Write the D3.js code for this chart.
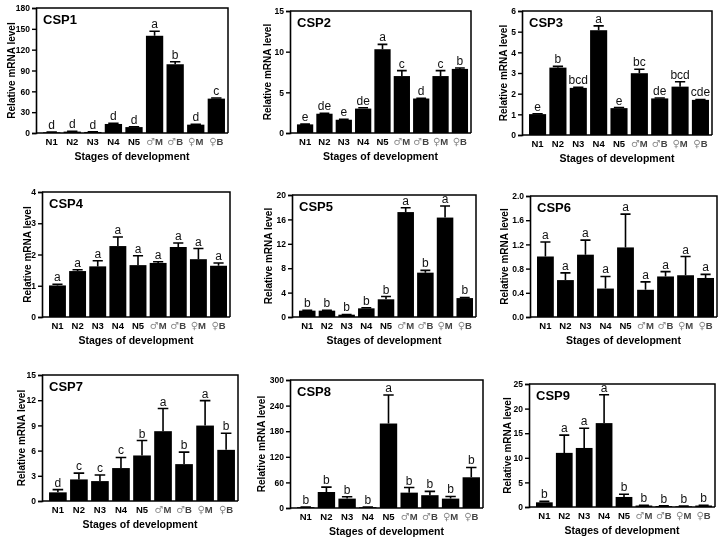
<!DOCTYPE html>
<html>
<head>
<meta charset="utf-8">
<script src="https://cdn.jsdelivr.net/npm/d3@7/dist/d3.min.js"></script>
<style>
  body { margin: 0; background: #fff; }
  svg { will-change: transform; }
  svg text { font-family: "Liberation Sans", Arial, sans-serif; }
</style>
</head>
<body>
<div id="chart"></div>
<script>
// stages on the x axis (same for all nine panels)
const categories = ["N1", "N2", "N3", "N4", "N5", "♂M", "♂B", "♀M", "♀B"];

// CSP1
const csp1Values = [1, 2, 1.5, 13, 8.5, 140, 99, 12, 49.5];
const csp1Errors = [0.3, 0.4, 0.3, 0.8, 0.6, 6.5, 3.5, 0.6, 0.8];
const csp1Letters = ["d", "d", "d", "d", "d", "a", "b", "d", "c"];
const csp1Ticks = [0, 30, 60, 90, 120, 150, 180];

// CSP2
const csp2Values = [1.06, 2.37, 1.63, 3.0, 10.3, 7.0, 4.24, 7.0, 7.88];
const csp2Errors = [0.03, 0.05, 0.04, 0.1, 0.6, 0.67, 0.04, 0.67, 0.12];
const csp2Letters = ["e", "de", "e", "de", "a", "c", "d", "c", "b"];
const csp2Ticks = [0, 5, 10, 15];

// CSP3
const csp3Values = [1.01, 3.26, 2.28, 5.07, 1.3, 2.99, 1.77, 2.34, 1.7];
const csp3Errors = [0.02, 0.06, 0.03, 0.21, 0.03, 0.19, 0.02, 0.24, 0.02];
const csp3Letters = ["e", "b", "bcd", "a", "e", "bc", "de", "bcd", "cde"];
const csp3Ticks = [0, 1, 2, 3, 4, 5, 6];

// CSP4
const csp4Values = [1.01, 1.47, 1.62, 2.27, 1.66, 1.73, 2.24, 1.85, 1.64];
const csp4Errors = [0.04, 0.04, 0.18, 0.29, 0.3, 0.04, 0.13, 0.34, 0.09];
const csp4Letters = ["a", "a", "a", "a", "a", "a", "a", "a", "a"];
const csp4Ticks = [0, 1, 2, 3, 4];

// CSP5
const csp5Values = [1.04, 1.04, 0.38, 1.42, 2.9, 17.2, 7.27, 16.3, 3.1];
const csp5Errors = [0.04, 0.04, 0.04, 0.1, 0.45, 0.7, 0.38, 1.9, 0.1];
const csp5Letters = ["b", "b", "b", "b", "b", "a", "b", "a", "b"];
const csp5Ticks = [0, 4, 8, 12, 16, 20];

// CSP6
const csp6Values = [1.0, 0.61, 1.03, 0.47, 1.15, 0.45, 0.67, 0.69, 0.645];
const csp6Errors = [0.24, 0.12, 0.24, 0.2, 0.55, 0.13, 0.08, 0.31, 0.06];
const csp6Letters = ["a", "a", "a", "a", "a", "a", "a", "a", "a"];
const csp6Ticks = [0, 0.4, 0.8, 1.2, 1.6, 2.0];

// CSP7
const csp7Values = [1.03, 2.57, 2.37, 3.92, 5.42, 8.31, 4.39, 8.98, 6.09];
const csp7Errors = [0.32, 0.75, 0.72, 1.26, 1.78, 2.7, 1.43, 2.97, 1.98];
const csp7Letters = ["d", "c", "c", "c", "b", "a", "b", "a", "b"];
const csp7Ticks = [0, 3, 6, 9, 12, 15];

// CSP8
const csp8Values = [2, 37.5, 22, 2, 198, 36, 30, 22, 72];
const csp8Errors = [0.5, 11.5, 4.5, 0.5, 67, 12, 9, 5, 23];
const csp8Letters = ["b", "b", "b", "b", "a", "b", "b", "b", "b"];
const csp8Ticks = [0, 60, 120, 180, 240, 300];

// CSP9
const csp9Values = [0.95, 11.0, 12.0, 17.05, 2.04, 0.3, 0.2, 0.15, 0.3];
const csp9Errors = [0.2, 3.6, 4.0, 5.75, 0.56, 0.05, 0.05, 0.03, 0.05];
const csp9Letters = ["b", "a", "a", "a", "b", "b", "b", "b", "b"];
const csp9Ticks = [0, 5, 10, 15, 20, 25];

// panel frames (left, right, top, bottom of the plot box) and y-label x
const panels = [
  { name: "CSP1", values: csp1Values, errors: csp1Errors, letters: csp1Letters, ticks: csp1Ticks, fmt: d3.format("d"), x0: 36, x1: 228, y0: 8, y1: 133, lx: 11 },
  { name: "CSP2", values: csp2Values, errors: csp2Errors, letters: csp2Letters, ticks: csp2Ticks, fmt: d3.format("d"), x0: 290, x1: 471, y0: 11, y1: 133, lx: 267 },
  { name: "CSP3", values: csp3Values, errors: csp3Errors, letters: csp3Letters, ticks: csp3Ticks, fmt: d3.format("d"), x0: 522, x1: 712, y0: 11, y1: 135, lx: 503 },
  { name: "CSP4", values: csp4Values, errors: csp4Errors, letters: csp4Letters, ticks: csp4Ticks, fmt: d3.format("d"), x0: 42, x1: 230, y0: 192, y1: 317, lx: 27 },
  { name: "CSP5", values: csp5Values, errors: csp5Errors, letters: csp5Letters, ticks: csp5Ticks, fmt: d3.format("d"), x0: 292, x1: 476, y0: 195, y1: 317, lx: 268 },
  { name: "CSP6", values: csp6Values, errors: csp6Errors, letters: csp6Letters, ticks: csp6Ticks, fmt: d3.format(".1f"), x0: 530, x1: 717, y0: 196, y1: 317, lx: 504 },
  { name: "CSP7", values: csp7Values, errors: csp7Errors, letters: csp7Letters, ticks: csp7Ticks, fmt: d3.format("d"), x0: 42, x1: 238, y0: 375, y1: 501, lx: 21 },
  { name: "CSP8", values: csp8Values, errors: csp8Errors, letters: csp8Letters, ticks: csp8Ticks, fmt: d3.format("d"), x0: 290, x1: 483, y0: 380, y1: 508, lx: 261 },
  { name: "CSP9", values: csp9Values, errors: csp9Errors, letters: csp9Letters, ticks: csp9Ticks, fmt: d3.format("d"), x0: 529, x1: 715, y0: 384, y1: 507, lx: 507 }
];

const svg = d3.select("#chart").append("svg")
  .attr("width", 720).attr("height", 542);
svg.append("rect").attr("width", 720).attr("height", 542).attr("fill", "#fff");

panels.forEach(p => {
  const g = svg.append("g");

  const y = d3.scaleLinear()
    .domain([0, d3.max(p.ticks)])
    .range([p.y1, p.y0]);

  const x = d3.scaleBand()
    .domain(categories)
    .range([p.x0 + 6, p.x1 - 2])
    .paddingInner(0.16)
    .paddingOuter(0.05);

  const data = categories.map((c, i) => ({ name: c, v: p.values[i], e: p.errors[i], l: p.letters[i] }));

  // bars
  g.selectAll(".bar").data(data).enter().append("rect")
    .attr("class", "bar")
    .attr("x", d => x(d.name))
    .attr("y", d => y(d.v))
    .attr("width", x.bandwidth())
    .attr("height", d => p.y1 - y(d.v))
    .attr("fill", "#000");

  // error bars (upper only)
  const capW = x.bandwidth() * 0.6;
  g.selectAll(".err").data(data).enter().append("path")
    .attr("class", "err")
    .attr("d", d => {
      const cx = x(d.name) + x.bandwidth() / 2;
      return `M${cx},${y(d.v)}V${y(d.v + d.e)}M${cx - capW / 2},${y(d.v + d.e)}H${cx + capW / 2}`;
    })
    .attr("stroke", "#000").attr("stroke-width", 1.6).attr("fill", "none");

  // significance letters
  g.selectAll(".sig").data(data).enter().append("text")
    .attr("class", "sig")
    .attr("x", d => x(d.name) + x.bandwidth() / 2)
    .attr("y", d => y(d.v + d.e) - 3)
    .attr("text-anchor", "middle")
    .attr("font-size", 12)
    .attr("fill", "#111")
    .text(d => d.l);

  // frame (top and right)
  g.append("path")
    .attr("d", `M${p.x0},${p.y0}H${p.x1}V${p.y1}`)
    .attr("stroke", "#000").attr("stroke-width", 1.5).attr("fill", "none");

  // y axis
  const yAxis = g.append("g")
    .attr("transform", `translate(${p.x0},0)`)
    .call(d3.axisLeft(y).tickValues(p.ticks).tickFormat(p.fmt).tickSize(4).tickPadding(2));
  yAxis.select(".domain").attr("stroke-width", 1.6);
  yAxis.selectAll(".tick line").attr("stroke-width", 1.4);
  yAxis.selectAll("text")
    .attr("font-family", "Liberation Sans, Arial, sans-serif")
    .attr("font-size", 8.5).attr("font-weight", "bold").attr("fill", "#000");

  // x axis line and labels
  const xAxis = g.append("g")
    .attr("transform", `translate(0,${p.y1})`)
    .call(d3.axisBottom(x).tickSize(0).tickPadding(5));
  xAxis.select(".domain")
    .attr("d", `M${p.x0},0H${p.x1}`)
    .attr("stroke-width", 1.6);
  xAxis.selectAll("text").each(function (d) {
    const t = d3.select(this).text("")
      .attr("font-family", "Liberation Sans, Arial, sans-serif")
      .attr("font-size", 9.5).attr("font-weight", "bold");
    if (d.startsWith("♂") || d.startsWith("♀")) {
      t.append("tspan").attr("fill", "#8a8a8a").attr("font-family", "DejaVu Sans")
        .attr("font-size", 10).attr("font-weight", "bold").text(d[0]);
      t.append("tspan").attr("fill", "#444").text(d.slice(1));
    } else {
      t.attr("fill", "#000").text(d);
    }
  });

  // titles
  g.append("text")
    .attr("x", p.x0 + 7).attr("y", p.y0 + 16)
    .attr("font-size", 13).attr("font-weight", "bold")
    .text(p.name);

  g.append("text")
    .attr("x", (p.x0 + p.x1) / 2).attr("y", p.y1 + 27)
    .attr("text-anchor", "middle")
    .attr("font-size", 10.5).attr("font-weight", "bold")
    .text("Stages of development");

  g.append("text")
    .attr("transform", `translate(${p.lx},${(p.y0 + p.y1) / 2}) rotate(-90)`)
    .attr("text-anchor", "middle").attr("dy", "0.35em")
    .attr("font-size", 10).attr("font-weight", "bold")
    .text("Relative mRNA level");
});
</script>
</body>
</html>
